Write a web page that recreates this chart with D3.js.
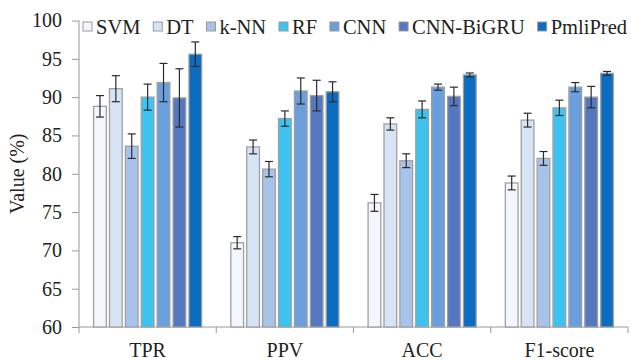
<!DOCTYPE html>
<html>
<head>
<meta charset="utf-8">
<script src="https://cdn.jsdelivr.net/npm/d3@7"></script>
<style>
  body { margin: 0; background: #fff; }
  text { font-family: "Liberation Serif", "Times New Roman", serif; fill: #222; }
</style>
</head>
<body>
<svg id="chart" width="631" height="360"></svg>
<script>
// metrics on x axis, models in legend order
const metrics = ['TPR', 'PPV', 'ACC', 'F1-score'];
const models = ['SVM', 'DT', 'k-NN', 'RF', 'CNN', 'CNN-BiGRU', 'PmliPred'];
const colors = ['#f3f6fc', '#d7e4f5', '#a8c3ea', '#3dc3ef', '#6a9edc', '#5577bf', '#0b6cc0'];

// mean values per model, one entry per metric
const svm      = [88.8, 71.0, 76.2, 78.8];
const dt       = [91.1, 83.5, 86.5, 87.0];
const knn      = [83.6, 80.6, 81.7, 82.0];
const rf       = [90.0, 87.2, 88.4, 88.6];
const cnn      = [91.9, 90.8, 91.3, 91.3];
const cnnBigru = [89.9, 90.2, 90.1, 90.0];
const pmlipred = [95.6, 90.7, 92.9, 93.1];

// standard deviations (error bars)
const svmErr      = [1.4, 0.8, 1.1, 0.9];
const dtErr       = [1.7, 0.9, 0.8, 0.9];
const knnErr      = [1.6, 1.0, 0.9, 0.9];
const rfErr       = [1.7, 1.0, 1.1, 1.0];
const cnnErr      = [2.5, 1.7, 0.4, 0.6];
const cnnBigruErr = [3.8, 2.0, 1.2, 1.4];
const pmlipredErr = [1.6, 1.3, 0.25, 0.25];

const yTicks = [60, 65, 70, 75, 80, 85, 90, 95, 100];

const values = [svm, dt, knn, rf, cnn, cnnBigru, pmlipred];
const errors = [svmErr, dtErr, knnErr, rfErr, cnnErr, cnnBigruErr, pmlipredErr];

const margin = {top: 20.5, right: 3, bottom: 33, left: 79};
const width = 631 - margin.left - margin.right;
const height = 360 - margin.top - margin.bottom;

const svg = d3.select('#chart');
const g = svg.append('g')
    .attr('transform', 'translate(' + margin.left + ',' + margin.top + ')');

const x0 = d3.scaleBand().domain(metrics).range([0, width]);
const x1 = d3.scaleBand().domain(models)
    .range([13, x0.bandwidth() - 13])
    .paddingInner(0.2)
    .paddingOuter(0.1);
const y = d3.scaleLinear().domain([60, 100]).range([height, 0]);

// y axis
const yAxis = g.append('g')
    .call(d3.axisLeft(y).tickValues(yTicks).tickSize(7).tickPadding(10));
yAxis.selectAll('line').attr('stroke', '#999');
yAxis.select('.domain').attr('stroke', '#999').attr('d', 'M0,' + height + 'V0');
yAxis.selectAll('text')
    .style('font-family', '"Liberation Serif", serif')
    .style('font-size', '20px')
    .attr('fill', '#222');

// x axis with ticks at the group boundaries
const xAxis = g.append('g')
    .attr('transform', 'translate(0,' + height + ')');
xAxis.append('line')
    .attr('x1', 0).attr('x2', width)
    .attr('stroke', '#999');
xAxis.selectAll('.bound')
    .data(metrics.concat(['end']))
    .enter().append('line')
    .attr('x1', (d, i) => i < metrics.length ? x0(d) : width)
    .attr('x2', (d, i) => i < metrics.length ? x0(d) : width)
    .attr('y1', 0).attr('y2', 6)
    .attr('stroke', '#999');
xAxis.selectAll('.lab')
    .data(metrics)
    .enter().append('text')
    .attr('x', d => x0(d) + x0.bandwidth() / 2)
    .attr('y', 30)
    .attr('text-anchor', 'middle')
    .style('font-size', '20px')
    .text(d => d);

// bars
const rows = [];
metrics.forEach((m, mi) => {
  models.forEach((md, k) => {
    rows.push({metric: m, model: md, k: k, v: values[k][mi], e: errors[k][mi]});
  });
});

g.append('g').selectAll('rect')
    .data(rows)
    .enter().append('rect')
    .attr('x', d => x0(d.metric) + x1(d.model))
    .attr('y', d => y(d.v))
    .attr('width', x1.bandwidth())
    .attr('height', d => height - y(d.v))
    .attr('fill', d => colors[d.k])
    .attr('stroke', '#a0a0a0')
    .attr('stroke-width', 1.3);

// error bars
const eb = g.append('g').attr('stroke', '#2b2b2b').attr('stroke-width', 1.2);
rows.forEach(d => {
  const cx = x0(d.metric) + x1(d.model) + x1.bandwidth() / 2;
  const top = y(d.v + d.e), bot = y(d.v - d.e);
  eb.append('line').attr('x1', cx).attr('x2', cx).attr('y1', top).attr('y2', bot);
  eb.append('line').attr('x1', cx - 4).attr('x2', cx + 4).attr('y1', top).attr('y2', top);
  eb.append('line').attr('x1', cx - 4).attr('x2', cx + 4).attr('y1', bot).attr('y2', bot);
});

// y label
svg.append('text')
    .attr('transform', 'translate(24,' + (margin.top + height / 2) + ') rotate(-90)')
    .attr('text-anchor', 'middle')
    .style('font-size', '20px')
    .text('Value (%)');

// legend: measure texts first, then spread the items between x=83 and x=627
const legend = svg.append('g').attr('transform', 'translate(83,27)');
const items = models.map((md, k) => {
  const item = legend.append('g');
  item.append('rect')
      .attr('x', 0).attr('y', -5)
      .attr('width', 9).attr('height', 9)
      .attr('fill', colors[k])
      .attr('stroke', '#999')
      .attr('stroke-width', 1);
  const t = item.append('text')
      .attr('x', 13)
      .attr('y', 7)
      .style('font-size', '20.5px')
      .text(md);
  return {item: item, w: 13 + t.node().getComputedTextLength()};
});
const used = d3.sum(items, d => d.w);
const gap = Math.max(8, (627 - 83 - used) / (items.length - 1));
let lx = 0;
items.forEach(d => {
  d.item.attr('transform', 'translate(' + lx + ',0)');
  lx += d.w + gap;
});
</script>
</body>
</html>
